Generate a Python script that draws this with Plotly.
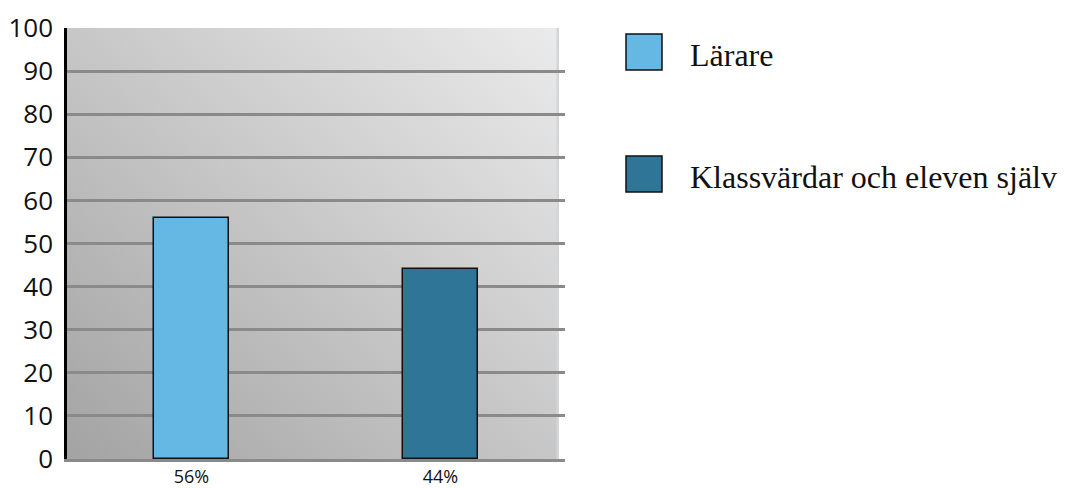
import base64
import plotly.graph_objects as go

# ---- data ----
series_names = ["Lärare", "Klassvärdar och eleven själv"]
values = [56, 44]
bar_labels = ["56%", "44%"]
bar_colors = ["#65b7e4", "#2e7598"]
y_ticks = [0, 10, 20, 30, 40, 50, 60, 70, 80, 90, 100]

W, H = 1076, 488
SL, SR, ST, SB = 67, 565, 28, 459          # plot area in px
L, T = SL, ST
R = W - SR
B = H - SB
plot_w = SR - SL
plot_h = SB - ST

fig = go.Figure()
for i, (name, v, c) in enumerate(zip(series_names, values, bar_colors)):
    fig.add_trace(go.Bar(
        x=[i], y=[v], name=name, width=0.3,
        marker=dict(color=c, line=dict(color="#111111", width=1.5)),
        showlegend=False,
    ))

# gradient background as an SVG image
bg_w = 492
svg = (
    f'<svg xmlns="http://www.w3.org/2000/svg" width="{bg_w}" height="{plot_h}" preserveAspectRatio="none">'
    '<defs><linearGradient id="g" x1="0" y1="1" x2="1" y2="0">'
    '<stop offset="0" stop-color="#a3a3a3"/><stop offset="1" stop-color="#ebebeb"/>'
    '</linearGradient></defs>'
    f'<rect x="0" y="0" width="{bg_w}" height="{plot_h}" fill="url(#g)"/>'
    f'<rect x="{bg_w - 2.5}" y="0" width="2.5" height="{plot_h}" fill="#d4d6d8"/>'
    '</svg>'
)
src = "data:image/svg+xml;base64," + base64.b64encode(svg.encode()).decode()
fig.add_layout_image(dict(
    source=src, xref="paper", yref="paper", x=0, y=1,
    sizex=bg_w / plot_w, sizey=1, sizing="stretch", layer="below",
    xanchor="left", yanchor="top",
))

# manual legend (px -> paper)
def px(x):
    return (x - SL) / plot_w

def py(y):
    return (SB - y) / plot_h

sq = 36
leg_x0 = 626
leg_y_centers = [52, 174]
for name, c, yc in zip(series_names, bar_colors, leg_y_centers):
    fig.add_shape(type="rect", xref="paper", yref="paper",
                  x0=px(leg_x0), x1=px(leg_x0 + sq),
                  y0=py(yc + sq / 2), y1=py(yc - sq / 2),
                  fillcolor=c, line=dict(color="#111111", width=1.5))
    fig.add_annotation(xref="paper", yref="paper",
                       x=px(688), y=py(yc + 3),
                       xanchor="left", yanchor="middle", showarrow=False,
                       text=name,
                       font=dict(family="Liberation Serif", size=32, color="#111111"))

fig.update_layout(
    width=W, height=H,
    margin=dict(l=L, r=R, t=T, b=B, pad=0, autoexpand=False),
    paper_bgcolor="white",
    plot_bgcolor="rgba(0,0,0,0)",
    bargap=0,
)
fig.update_xaxes(
    range=[-0.5, 1.5], tickvals=[0, 1], ticktext=bar_labels,
    showgrid=False, zeroline=False, automargin=False,
    showline=True, linecolor="#8a8a8a", linewidth=2.5,
    ticks="", ticklen=0,
    tickfont=dict(family="Open Sans", size=18, color="#111111"),
    fixedrange=True,
)
fig.update_yaxes(
    range=[0, 100], tickvals=y_ticks, ticktext=[str(t) for t in y_ticks],
    showgrid=True, gridcolor="#8a8a8a", gridwidth=2.5,
    zeroline=False, automargin=False,
    showline=True, linecolor="#000000", linewidth=2.5,
    ticks="outside", ticklen=6, tickcolor="rgba(0,0,0,0)",
    tickfont=dict(family="Open Sans", size=26, color="#111111"),
    fixedrange=True,
)

fig.write_html(
    "out.html",
    config={"displayModeBar": False},
    post_script="document.body.style.margin='0';document.body.style.overflow='hidden';",
)
